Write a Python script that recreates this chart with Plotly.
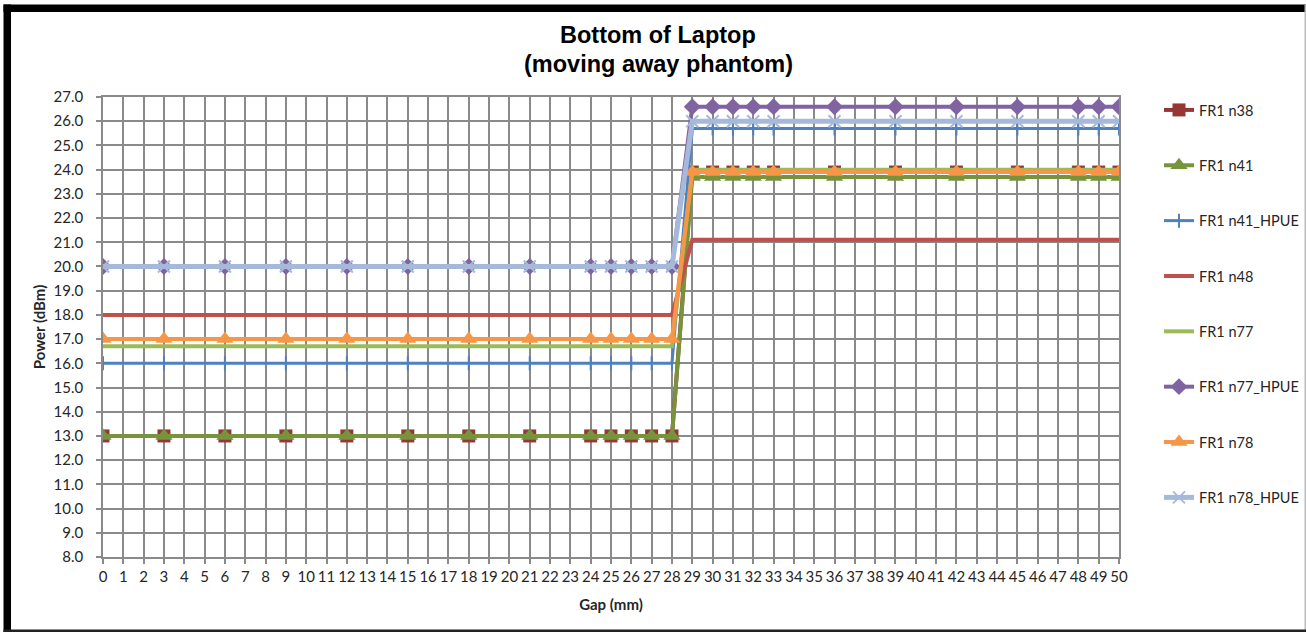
import plotly.graph_objects as go

# ---------------- data ----------------
gap_mm = [0, 3, 6, 9, 12, 15, 18, 21, 24, 25, 26, 27, 28,
          29, 30, 31, 32, 33, 36, 39, 42, 45, 48, 49, 50]

series_names = ["FR1 n38", "FR1 n41", "FR1 n41_HPUE", "FR1 n48",
                "FR1 n77", "FR1 n77_HPUE", "FR1 n78", "FR1 n78_HPUE"]

# power before / after the switch between 28 mm and 29 mm
n38_low, n38_high = 13.0, 23.9
n41_low, n41_high = 13.0, 23.7
n41_hpue_low, n41_hpue_high = 16.0, 25.7
n48_low, n48_high = 18.0, 21.1
n77_low, n77_high = 16.7, 24.0
n77_hpue_low, n77_hpue_high = 20.0, 26.6
n78_low, n78_high = 17.0, 23.9
n78_hpue_low, n78_hpue_high = 20.0, 26.0

n38 = [n38_low] * 13 + [n38_high] * 12
n41 = [n41_low] * 13 + [n41_high] * 12
n41_hpue = [n41_hpue_low] * 13 + [n41_hpue_high] * 12
n48 = [n48_low] * 13 + [n48_high] * 12
n77 = [n77_low] * 13 + [n77_high] * 12
n77_hpue = [n77_hpue_low] * 13 + [n77_hpue_high] * 12
n78 = [n78_low] * 13 + [n78_high] * 12
n78_hpue = [n78_hpue_low] * 13 + [n78_hpue_high] * 12

title_lines = ["Bottom of Laptop", "(moving away phantom)"]
y_tick_vals = [8.0 + i for i in range(20)]
x_tick_vals = list(range(0, 51))

# ---------------- layout geometry ----------------
W, H = 1306, 633
ML, MR, MT, MB = 103, 187, 97, 76
PW, PH = W - ML - MR, H - MT - MB


def px_x(px):
    return (px - ML) / PW


def px_y(py):
    return (H - MB - py) / PH


styles = [
    dict(color="#953735", width=4, mode="lines+markers",
         marker=dict(symbol="square", size=13, color="#953735")),
    dict(color="#77933C", width=4, mode="lines+markers",
         marker=dict(symbol="triangle-up", size=15, color="#77933C")),
    dict(color="#4F81BD", width=3, mode="lines+markers",
         marker=dict(symbol="line-ns", size=10, line=dict(color="#4F81BD", width=2))),
    dict(color="#C0504D", width=4, mode="lines", marker=None),
    dict(color="#9BBB59", width=4, mode="lines", marker=None),
    dict(color="#8064A2", width=4, mode="lines+markers",
         marker=dict(symbol="diamond", size=13, color="#8064A2")),
    dict(color="#F79646", width=4, mode="lines+markers",
         marker=dict(symbol="triangle-up", size=15, color="#F79646")),
    dict(color="#A7B9DA", width=5, mode="lines+markers",
         marker=dict(symbol="x-thin", size=12, line=dict(color="#A7B9DA", width=2))),
]

all_values = [n38, n41, n41_hpue, n48, n77, n77_hpue, n78, n78_hpue]

fig = go.Figure()
for i, (name, vals, st) in enumerate(zip(series_names, all_values, styles)):
    kw = dict(x=gap_mm, y=vals, name=name, mode=st["mode"],
              line=dict(color=st["color"], width=st["width"]),
              legendgroup=f"g{i}")
    if st["marker"] is not None:
        kw["marker"] = st["marker"]
    fig.add_trace(go.Scatter(**kw))

grid_col = "#8A8A8A"
font_fam = "Lato, 'Liberation Sans', sans-serif"
title_fam = "'Liberation Sans', Arial, sans-serif"
txt_col = "#262626"

fig.update_layout(
    width=W, height=H,
    margin=dict(l=ML, r=MR, t=MT, b=MB, autoexpand=False),
    paper_bgcolor="white", plot_bgcolor="white",
    font=dict(family=font_fam, size=15, color=txt_col),
    legend=dict(x=px_x(1159), xanchor="left", y=px_y(94), yanchor="top",
                font=dict(family=font_fam, size=14.5, color=txt_col),
                tracegroupgap=33.5, itemwidth=30, bgcolor="rgba(0,0,0,0)",
                maxheight=600),
    showlegend=True,
)

for line_text, py in zip(title_lines, [35, 64]):
    fig.add_annotation(text=f"<b>{line_text}</b>", xref="paper", yref="paper",
                       x=px_x(658), y=px_y(py), xanchor="center", yanchor="middle",
                       showarrow=False,
                       font=dict(family=title_fam, size=23.5, color="black"))

fig.update_xaxes(
    range=[0, 50], tickmode="array", tickvals=x_tick_vals,
    ticktext=[str(v) for v in x_tick_vals],
    showgrid=True, gridcolor=grid_col, gridwidth=1.5,
    showline=True, linecolor=grid_col, linewidth=1.5, mirror=True,
    ticks="outside", ticklen=5, tickcolor=grid_col, tickwidth=1.5,
    tickfont=dict(family=font_fam, size=15, color=txt_col),
    zeroline=False,
    title=dict(text="<b>Gap (mm)</b>", standoff=16,
               font=dict(family=font_fam, size=15, color=txt_col)),
)
fig.update_yaxes(
    range=[8, 27], tickmode="array", tickvals=y_tick_vals,
    ticktext=[f"{v:.1f}" for v in y_tick_vals],
    showgrid=True, gridcolor=grid_col, gridwidth=1.5,
    showline=True, linecolor=grid_col, linewidth=1.5, mirror=True,
    ticks="outside", ticklen=5, tickcolor=grid_col, tickwidth=1.5,
    ticklabelstandoff=10,
    tickfont=dict(family=font_fam, size=15, color=txt_col),
    zeroline=False,
    title=dict(text="<b>Power (dBm)</b>", standoff=4,
               font=dict(family=font_fam, size=15, color=txt_col)),
)

# outer frame of the chart picture
frame = [
    (3.5, 4.5, W, 12, "black"),        # top band
    (3.5, 4.5, 11, 632, "black"),      # left band
    (1304.5, 4.5, W, 632, "#BBBBBB"),  # right edge
    (3.5, 629.5, W, 632, "#222222"),   # bottom edge
]
for x0, y0, x1, y1, c in frame:
    fig.add_shape(type="rect", xref="paper", yref="paper",
                  x0=px_x(x0), x1=px_x(x1), y0=px_y(y0), y1=px_y(y1),
                  fillcolor=c, line=dict(width=0), layer="above")

fig.write_html(
    "out.html",
    config={"displayModeBar": False},
    post_script="document.body.style.margin='0';document.body.style.overflow='hidden';",
)
